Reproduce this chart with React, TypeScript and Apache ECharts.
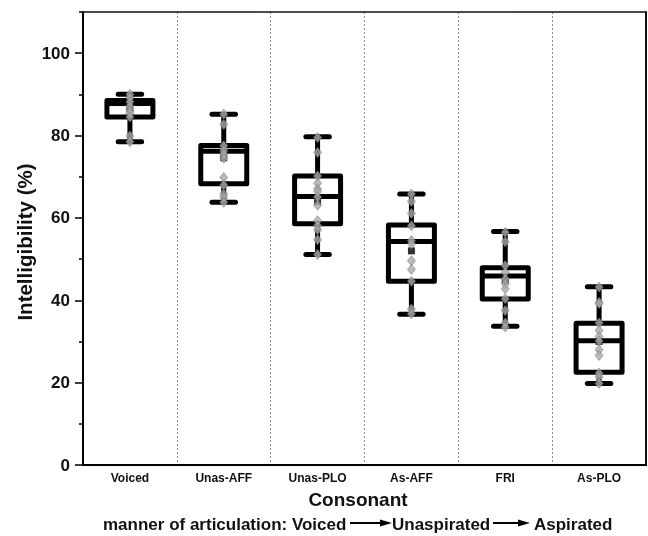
import React, { useEffect, useRef } from "react";
import * as echarts from "echarts";

const categories = ["Voiced", "Unas-AFF", "Unas-PLO", "As-AFF", "FRI", "As-PLO"];
// [lower whisker, Q1, median, Q3, upper whisker]
const boxStats = [
  [78.5, 84.5, 87.8, 88.5, 90.0],
  [63.8, 68.3, 76.2, 77.6, 85.2],
  [51.1, 58.6, 65.2, 70.2, 79.7],
  [36.6, 44.6, 54.3, 58.3, 65.8],
  [33.7, 40.3, 45.9, 47.9, 56.7],
  [19.8, 22.5, 30.2, 34.4, 43.3],
];
const means = [86.6, 74.6, 64.0, 52.0, 44.8, 30.0];
const voicedPts = [90.0, 89.2, 88.2, 87.2, 86.1, 85.5, 84.5, 79.9, 78.5];
const unasAffPts = [85.2, 82.7, 77.5, 76.3, 75.5, 74.5, 69.8, 68.0, 65.8, 65.0, 63.8];
const unasPloPts = [79.5, 75.9, 70.2, 68.4, 67.0, 66.4, 65.1, 63.1, 59.3, 58.1, 57.1, 54.7, 51.1];
const asAffPts = [65.8, 64.0, 61.1, 58.1, 54.5, 53.7, 49.6, 47.5, 44.6, 37.9, 36.7];
const friPts = [56.5, 54.2, 48.4, 46.8, 45.2, 44.0, 42.8, 40.4, 37.5, 34.5, 33.5];
const asPloPts = [43.2, 39.5, 39.2, 34.5, 32.7, 31.2, 30.1, 28.0, 26.6, 22.3, 21.4, 19.8];
const pointGroups = [voicedPts, unasAffPts, unasPloPts, asAffPts, friPts, asPloPts];
const yMajorTicks = [0, 20, 40, 60, 80, 100];
const yMinorTicks = [10, 30, 50, 70, 90, 110];
const yMin = 0;
const yMax = 110;

const FONT = "'Liberation Sans', Arial, sans-serif";

export default function App() {
  const ref = useRef<HTMLDivElement>(null);
  useEffect(() => {
    if (!ref.current) return;
    const chart = echarts.init(ref.current, null, { renderer: "svg" });
    const boxData = boxStats.map((s, i) => [i, ...s]);
    const meanData = means.map((m, i) => [i, m]);
    const ptData: number[][] = [];
    pointGroups.forEach((g, i) => g.forEach((v) => ptData.push([i, v])));

    const arrow = (x1: number, x2: number, y: number) => [
      {
        type: "line",
        shape: { x1, y1: y, x2: x2 - 8, y2: y },
        style: { stroke: "#000", lineWidth: 2 },
      },
      {
        type: "polygon",
        shape: { points: [[x2 - 12, y - 3.5], [x2, y], [x2 - 12, y + 3.5]] },
        style: { fill: "#000" },
      },
    ];

    const textStyle = (text: string, size: number, align: string) => ({
      text,
      fontFamily: FONT,
      fontWeight: "bold",
      fontSize: size,
      fill: "#111",
      align,
      verticalAlign: "middle",
    });

    chart.setOption({
      animation: false,
      grid: {
        left: 83,
        right: 2,
        top: 12,
        bottom: 71,
        show: false,
      },
      xAxis: [
        {
          type: "category",
          data: categories,
          boundaryGap: true,
          axisLine: { show: true, lineStyle: { color: "#000", width: 2 } },
          axisTick: { show: false },
          axisLabel: {
            margin: 7,
            color: "#111",
            fontFamily: FONT,
            fontWeight: "bold",
            fontSize: 12,
          },
          splitLine: {
            show: true,
            interval: 0,
            lineStyle: { color: "#8c8c8c", width: 1, type: [2, 2] },
          },
        },
        {
          type: "category",
          data: categories,
          position: "top",
          axisLine: { show: true, onZero: false, lineStyle: { color: "#111", width: 1.6 } },
          axisTick: { show: false },
          axisLabel: { show: false },
          splitLine: { show: false },
        },
      ],
      yAxis: [
        {
          type: "value",
          min: yMin,
          max: yMax,
          interval: 10,
          axisLine: { show: true, onZero: false, lineStyle: { color: "#000", width: 2 } },
          axisTick: {
            show: true,
            customValues: yMajorTicks,
            length: 8,
            lineStyle: { color: "#000", width: 1.5 },
          },
          axisLabel: {
            customValues: yMajorTicks,
            margin: 13,
            color: "#111",
            fontFamily: FONT,
            fontWeight: "bold",
            fontSize: 17,
          },
          splitLine: { show: false },
        },
        {
          type: "value",
          min: yMin,
          max: yMax,
          position: "left",
          axisLine: { show: false, onZero: false },
          axisTick: {
            show: true,
            customValues: yMinorTicks,
            length: 4,
            lineStyle: { color: "#000", width: 1.5 },
          },
          axisLabel: { show: false },
          splitLine: { show: false },
        },
        {
          type: "value",
          min: yMin,
          max: yMax,
          position: "right",
          axisLine: { show: true, onZero: false, lineStyle: { color: "#111", width: 2 } },
          axisTick: { show: false },
          axisLabel: { show: false },
          splitLine: { show: false },
        },
      ],
      series: [
        {
          type: "custom",
          data: boxData,
          encode: { x: 0, y: [1, 2, 3, 4, 5] },
          z: 2,
          renderItem: (params: any, api: any) => {
            const i = api.value(0);
            const lo = api.coord([i, api.value(1)]);
            const q1 = api.coord([i, api.value(2)]);
            const med = api.coord([i, api.value(3)]);
            const q3 = api.coord([i, api.value(4)]);
            const hi = api.coord([i, api.value(5)]);
            const band = api.size([1, 0])[0];
            const bw = band * 0.49;
            const cw = band * 0.25;
            const cx = lo[0];
            const st = {
              stroke: "#000",
              lineWidth: 5,
              fill: "none",
              lineCap: "round",
              lineJoin: "round",
            };
            return {
              type: "group",
              children: [
                { type: "line", shape: { x1: cx, y1: hi[1], x2: cx, y2: q3[1] }, style: st },
                { type: "line", shape: { x1: cx, y1: q1[1], x2: cx, y2: lo[1] }, style: st },
                { type: "line", shape: { x1: cx - cw / 2, y1: hi[1], x2: cx + cw / 2, y2: hi[1] }, style: st },
                { type: "line", shape: { x1: cx - cw / 2, y1: lo[1], x2: cx + cw / 2, y2: lo[1] }, style: st },
                {
                  type: "rect",
                  shape: { x: cx - bw / 2, y: q3[1], width: bw, height: q1[1] - q3[1] },
                  style: st,
                },
                {
                  type: "line",
                  shape: { x1: cx - bw / 2, y1: med[1], x2: cx + bw / 2, y2: med[1] },
                  style: { ...st, lineCap: "butt" },
                },
              ],
            };
          },
        },
        {
          type: "scatter",
          data: meanData,
          symbol: "rect",
          symbolSize: 7,
          itemStyle: { color: "#000" },
          z: 3,
        },
        {
          type: "scatter",
          data: ptData,
          symbol: "diamond",
          symbolSize: [8, 10],
          itemStyle: { color: "#a9a9a9", borderColor: "#7a7a7a", borderWidth: 0.7 },
          z: 4,
        },
      ],
      graphic: [
        {
          type: "text",
          x: 24,
          y: 242,
          rotation: Math.PI / 2,
          style: textStyle("Intelligibility (%)", 20.5, "center"),
        },
        {
          type: "text",
          x: 358,
          y: 499,
          style: textStyle("Consonant", 19, "center"),
        },
        {
          type: "text",
          x: 103,
          y: 524,
          style: textStyle("manner of articulation: Voiced", 17, "left"),
        },
        ...arrow(350, 392, 523),
        {
          type: "text",
          x: 392,
          y: 524,
          style: textStyle("Unaspirated", 17, "left"),
        },
        ...arrow(493, 530, 523),
        {
          type: "text",
          x: 534,
          y: 524,
          style: textStyle("Aspirated", 17, "left"),
        },
      ],
    });
    return () => chart.dispose();
  }, []);
  return (
    <div
      ref={ref}
      style={{ position: "fixed", left: 0, top: 0, width: 648, height: 536 }}
    />
  );
}
